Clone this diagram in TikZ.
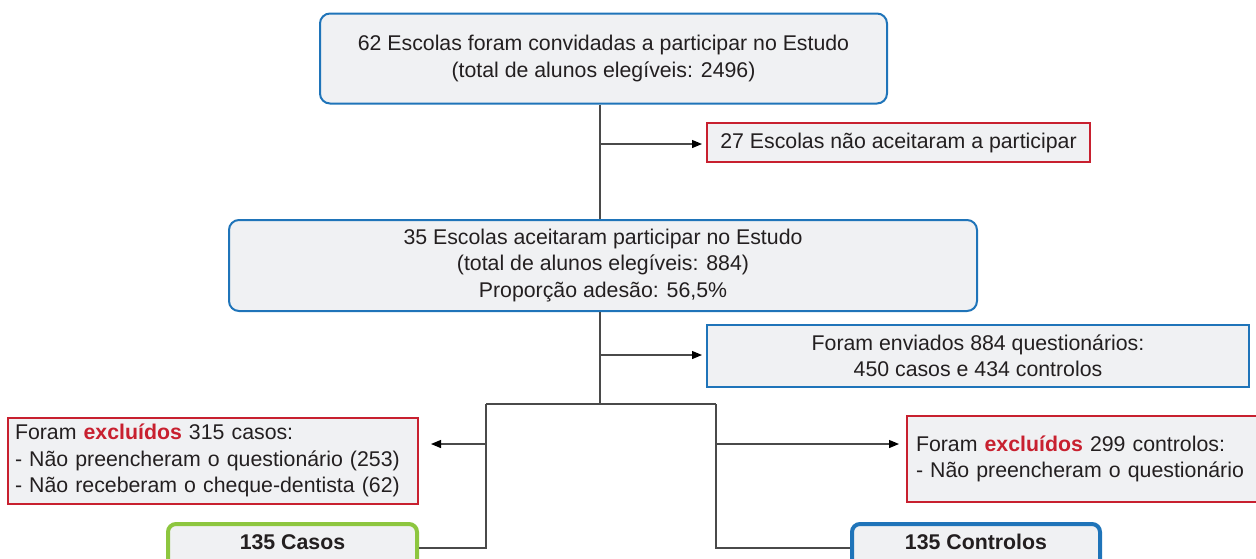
\documentclass[tikz,border=0pt]{standalone}
\usepackage{fontspec}
\setmainfont{Liberation Sans}
\usetikzlibrary{arrows.meta}
\definecolor{bblue}{HTML}{1F74B9}
\definecolor{bred}{HTML}{C8202F}
\definecolor{bgreen}{HTML}{8DC63F}
\definecolor{bfill}{HTML}{F0F1F3}
\definecolor{btext}{HTML}{231F20}
\definecolor{lineg}{HTML}{4A4A4A}
\begin{document}
\begin{tikzpicture}[x=1pt,y=-1pt,
  every node/.style={font=\fontsize{21.3}{26.5}\selectfont, text=btext},
  box/.style={draw, fill=bfill, line width=2pt, inner sep=0pt, align=center},
  bluebox/.style={box, draw=bblue},
  redbox/.style={box, draw=bred},
  conn/.style={draw=lineg, line width=1.2pt},
  arr/.style={conn, -{Triangle[length=10pt,width=8pt,color=black]}},
  bottombox/.style={box, line width=4pt, rounded corners=8pt, anchor=north, inner ysep=10.5pt, text depth=40pt, font=\fontsize{21.3}{24}\selectfont\bfseries},
]
\useasboundingbox (0,0) rectangle (1256,558);
\node[bluebox, rounded corners=10pt, minimum width=567pt, minimum height=90pt] (b1) at (603.5,58.5)
  {62 Escolas foram convidadas a participar no Estudo\\(total de alunos elegíveis: 2496)};
\node[redbox, minimum width=383pt, minimum height=39pt, text depth=3pt] (r1) at (898.5,142.5)
  {27 Escolas não aceitaram a participar};
\node[bluebox, rounded corners=10pt, minimum width=748pt, minimum height=91pt] (b2) at (603,265.5)
  {35 Escolas aceitaram participar no Estudo\\(total de alunos elegíveis: 884)\\Proporção adesão: 56,5\%};
\node[bluebox, minimum width=542pt, minimum height=62pt] (b3) at (978,356)
  {Foram enviados 884 questionários:\\450 casos e 434 controlos};
\node[redbox, minimum width=410pt, minimum height=86pt, text width=396pt, align=left] (r2) at (213,460.5)
  {Foram \textcolor{bred}{\textbf{excluídos}} 315 casos:\\- Não preencheram o questionário (253)\\- Não receberam o cheque-dentista (62)};
\node[redbox, minimum width=359pt, minimum height=86pt, text width=341pt, align=left] (r3) at (1086.5,459)
  {Foram \textcolor{bred}{\textbf{excluídos}} 299 controlos:\\- Não preencheram o questionário\\[6pt]};
\node[bottombox, draw=bgreen, minimum width=249pt] (c1) at (292.5,522) {135 Casos};
\node[bottombox, draw=bblue, minimum width=248pt] (c2) at (976,522) {135 Controlos};
\coordinate (t1) at (600,144);
\coordinate (t2) at (600,355);
\coordinate (sp) at (600,404);
\coordinate (L) at (486,404);
\coordinate (R) at (716,404);
\coordinate (La) at (486,444);
\coordinate (Ra) at (716,444);
\coordinate (Lb) at (486,548);
\coordinate (Rb) at (716,548);
\draw[conn] (b1.south -| t1) -- (b2.north -| t1);
\draw[arr, shorten >=4pt] (t1) -- (t1 -| r1.west);
\draw[conn] (b2.south -| t2) -- (sp);
\draw[arr, shorten >=4pt] (t2) -- (t2 -| b3.west);
\draw[conn] (L) -- (R);
\draw[conn] (L) -- (Lb) -- (Lb -| c1.east);
\draw[conn] (R) -- (Rb) -- (Rb -| c2.west);
\draw[arr, shorten >=12pt] (La) -- (La -| r2.east);
\draw[arr, shorten >=7pt] (Ra) -- (Ra -| r3.west);
\end{tikzpicture}
\end{document}
